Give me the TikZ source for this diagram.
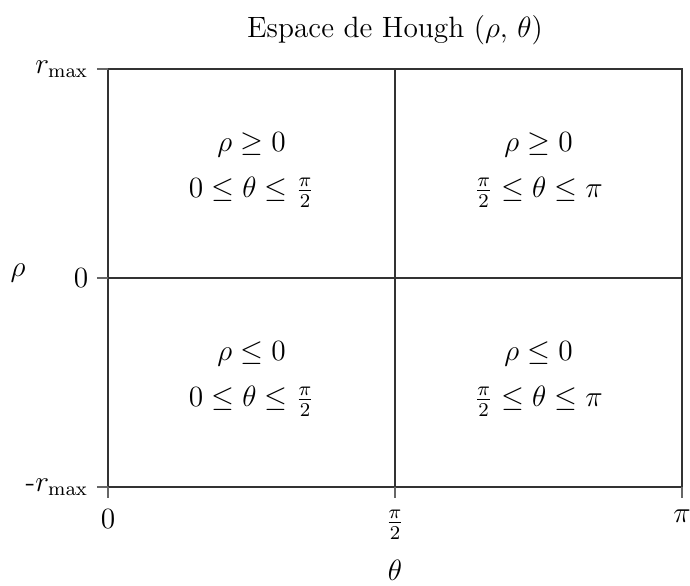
\documentclass[tikz,border=0pt]{standalone}
\usepackage{amsmath}
\usetikzlibrary{positioning}

\begin{document}
\begin{tikzpicture}[
    frame/.style={draw=black!80, line width=0.6pt},
    tickmark/.style={draw=black!60, line width=0.6pt},
    quad/.style={align=center, font=\large},
    lbl/.style={font=\large}
  ]
    \useasboundingbox (-1.55,-1.407) rectangle (8.354,6.99);
    % axes and quadrants
    \draw[frame] (0,0) rectangle (8.24,6);
    \draw[frame] (4.12,0) -- (4.12,6);
    \draw[frame] (0,3) -- (8.24,3);
    \foreach \y in {0,3,6} \draw[tickmark] (-0.16,\y) -- (0,\y);
    \foreach \x in {0,4.12,8.24} \draw[tickmark] (\x,0) -- (\x,-0.16);
    \node[lbl] (title) at (4.12,6.56) {Espace de Hough ($\rho$, $\theta$)};
    \node[lbl, anchor=east] (rmax) at (-0.16,6) {$r_{\max}$};
    \node[lbl, anchor=east] (rzero) at (-0.16,3) {$0$};
    \node[lbl, anchor=east] (rmin) at (-0.16,0) {-$r_{\max}$};
    \node[lbl] (rho) at (-1.29,3.07) {$\rho$};
    \node[lbl, anchor=north] (tzero) at (0,-0.2) {$0$};
    \node[lbl, anchor=north] (thalf) at (4.12,-0.2) {$\frac{\pi}{2}$};
    \node[lbl, anchor=north] (tpi) at (8.24,-0.2) {$\pi$};
    \node[lbl] (theta) at (4.12,-1.19) {$\theta$};
    \node[quad] (q1) at (2.06,4.55) {$\rho \geq 0$\\[5pt] $0 \leq \theta \leq \frac{\pi}{2}$};
    \node[quad] (q2) at (6.18,4.55) {$\rho \geq 0$\\[5pt] $\frac{\pi}{2} \leq \theta \leq \pi$};
    \node[quad] (q3) at (2.06,1.55) {$\rho \leq 0$\\[5pt] $0 \leq \theta \leq \frac{\pi}{2}$};
    \node[quad] (q4) at (6.18,1.55) {$\rho \leq 0$\\[5pt] $\frac{\pi}{2} \leq \theta \leq \pi$};
  \end{tikzpicture}
\end{document}
